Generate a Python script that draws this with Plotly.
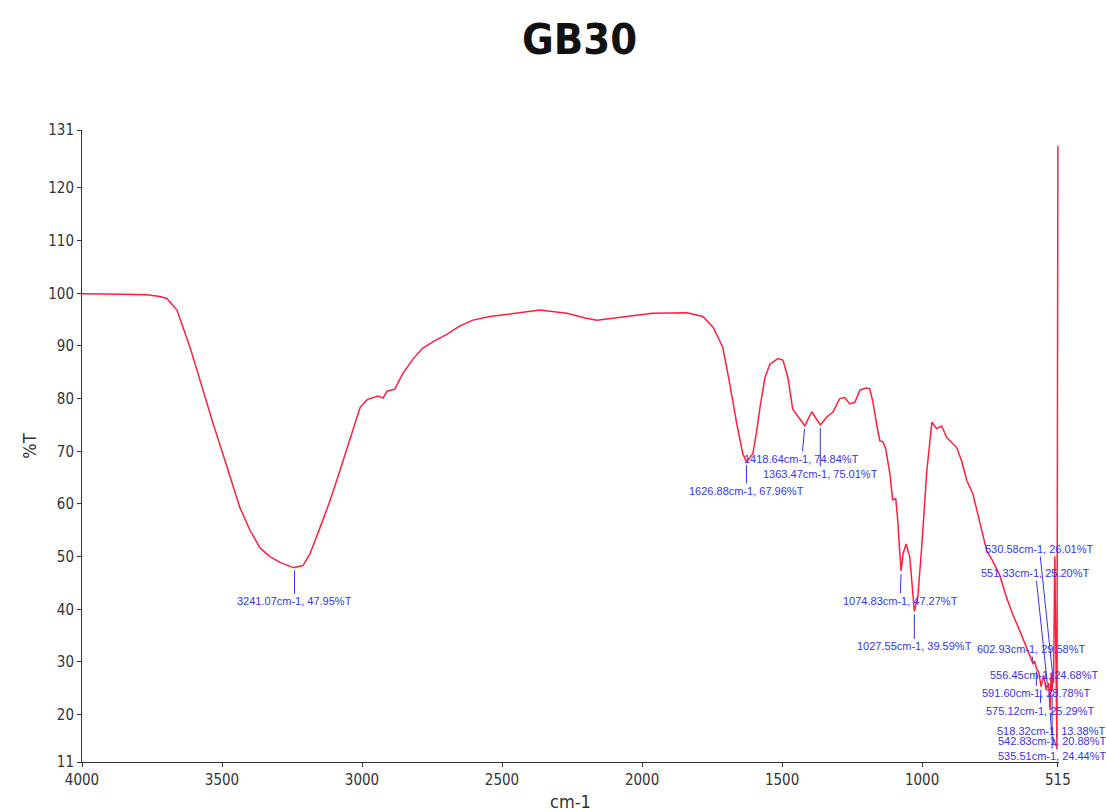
import plotly.graph_objects as go

# FTIR transmittance spectrum of sample GB30 (wavenumber in cm-1, %T)
wavenumber = [
    4000, 3936, 3864, 3768, 3722, 3697, 3679, 3661, 3614, 3579,
    3532, 3482, 3436, 3400, 3365, 3329, 3293, 3250, 3241.07, 3211,
    3186, 3150, 3115, 3079, 3043, 3007, 2982, 2961, 2943, 2925,
    2911, 2883, 2854, 2818, 2783, 2740, 2697, 2650, 2604, 2543,
    2461, 2365, 2268, 2204, 2161, 2115, 2079, 1962, 1840, 1783,
    1747, 1712, 1687, 1662, 1640, 1626.88, 1604, 1590, 1579, 1561,
    1544, 1515, 1497, 1479, 1462, 1418.64, 1394, 1363.47, 1340, 1319,
    1294, 1276, 1258, 1240, 1222, 1201, 1187, 1176, 1162, 1151,
    1140, 1130, 1115, 1105, 1094, 1087, 1080, 1074.83, 1068, 1057,
    1044, 1034, 1027.55, 1015, 1001, 983, 965, 948, 930, 912,
    901, 876, 858, 840, 819, 794, 769, 748, 723, 698,
    676, 651, 633, 616, 602.93, 598, 591.60, 583, 575.12, 566,
    556.45, 553.5, 551.33, 548, 542.83, 539, 535.51, 533, 530.58, 526,
    522, 518.32, 515,
]
transmittance = [
    99.9, 99.9, 99.8, 99.7, 99.4, 99.0, 98.0, 96.8, 89.7, 83.5,
    75.3, 67.0, 59.3, 55.0, 51.7, 50.0, 48.9, 48.0, 47.95, 48.3,
    50.5, 55.5, 60.5, 66.3, 72.5, 78.3, 79.8, 80.2, 80.5, 80.1,
    81.4, 81.8, 84.8, 87.5, 89.6, 91.0, 92.2, 93.8, 94.9, 95.6,
    96.2, 96.8, 96.2, 95.3, 94.9, 95.2, 95.5, 96.2, 96.3, 95.6,
    93.6, 89.8, 82.9, 75.3, 69.5, 67.96, 69.6, 74.0, 78.3, 84.0,
    86.5, 87.6, 87.3, 84.0, 78.0, 74.84, 77.5, 75.01, 76.5, 77.4,
    80.0, 80.2, 79.0, 79.3, 81.6, 82.0, 81.9, 79.5, 75.0, 72.0,
    71.8, 70.5, 65.8, 60.8, 61.0, 57.0, 51.0, 47.27, 50.5, 52.4,
    50.0, 44.0, 39.59, 42.5, 52.0, 66.3, 75.5, 74.3, 74.8, 72.6,
    72.0, 70.7, 68.0, 64.4, 62.0, 56.8, 51.1, 49.2, 46.5, 42.2,
    39.0, 35.9, 33.5, 31.6, 29.58, 30.2, 28.78, 28.0, 25.29, 27.5,
    24.68, 25.6, 25.20, 26.0, 20.88, 28.0, 24.44, 27.5, 26.01, 50.0,
    35.0, 13.38, 128.0,
]

# Picked peaks: (wavenumber, %T) and label offsets in pixels
peak_wn = [3241.07, 1626.88, 1418.64, 1363.47, 1074.83, 1027.55,
           530.58, 551.33, 602.93, 556.45, 591.60, 575.12, 518.32, 542.83, 535.51]
peak_t = [47.95, 67.96, 74.84, 75.01, 47.27, 39.59,
          26.01, 25.20, 29.58, 24.68, 28.78, 25.29, 13.38, 20.88, 24.44]
label_dx = [0, 0, -3, 0, -1, 0,
            -14, -12, -2, -2, 0, -1, -5, 2, 0]
label_dy = [34, 29, 33, 49, 30, 35,
            -134, -114, -15, -15, 25, 24, -18, 31, 65]

x_ticks = [4000, 3500, 3000, 2500, 2000, 1500, 1000, 515]
y_ticks = [11, 20, 30, 40, 50, 60, 70, 80, 90, 100, 110, 120, 131]

fig = go.Figure()
fig.add_trace(go.Scatter(
    x=wavenumber, y=transmittance, mode="lines",
    line=dict(color="#ff1f3d", width=1.5),
    showlegend=False, hoverinfo="x+y",
))

for wn, t, dx, dy in zip(peak_wn, peak_t, label_dx, label_dy):
    fig.add_annotation(
        x=wn, y=t, text=f"{wn:.2f}cm-1, {t:.2f}%T",
        showarrow=True, arrowhead=0, arrowwidth=1, arrowcolor="#3535e8",
        ax=dx, ay=dy, standoff=3,
        font=dict(family="Liberation Sans, Arial, sans-serif", size=11, color="#3535e8"),
    )

axis_family = "Liberation Sans Narrow, DejaVu Sans Condensed, Liberation Sans, Arial, sans-serif"
axis_font = dict(family=axis_family, size=15, color="#333333")

fig.update_layout(
    width=1106, height=812,
    margin=dict(l=82, r=47, t=130, b=50),
    paper_bgcolor="white", plot_bgcolor="white",
    title=dict(
        text="<b>GB30</b>", x=0.524, xanchor="center", y=0.952, yanchor="middle",
        font=dict(family=axis_family, size=43, color="#111111"),
    ),
    xaxis=dict(
        range=[4000, 511], tickvals=x_ticks, ticktext=[str(v) for v in x_ticks],
        showgrid=False, zeroline=False, showline=True, linecolor="#333333", linewidth=1,
        ticks="outside", ticklen=4, tickcolor="#333333", tickfont=axis_font,
        automargin=False,
        title=dict(text="cm-1", font=dict(family=axis_family, size=18, color="#333333"), standoff=12),
    ),
    yaxis=dict(
        range=[11, 131], tickvals=y_ticks, ticktext=[str(v) for v in y_ticks],
        showgrid=False, zeroline=False, showline=True, linecolor="#333333", linewidth=1,
        ticks="outside", ticklen=4, tickcolor="#333333", tickfont=axis_font,
        automargin=False,
        title=dict(text="%T", font=dict(family=axis_family, size=18, color="#333333"), standoff=6),
    ),
)

fig.write_html("out.html")
